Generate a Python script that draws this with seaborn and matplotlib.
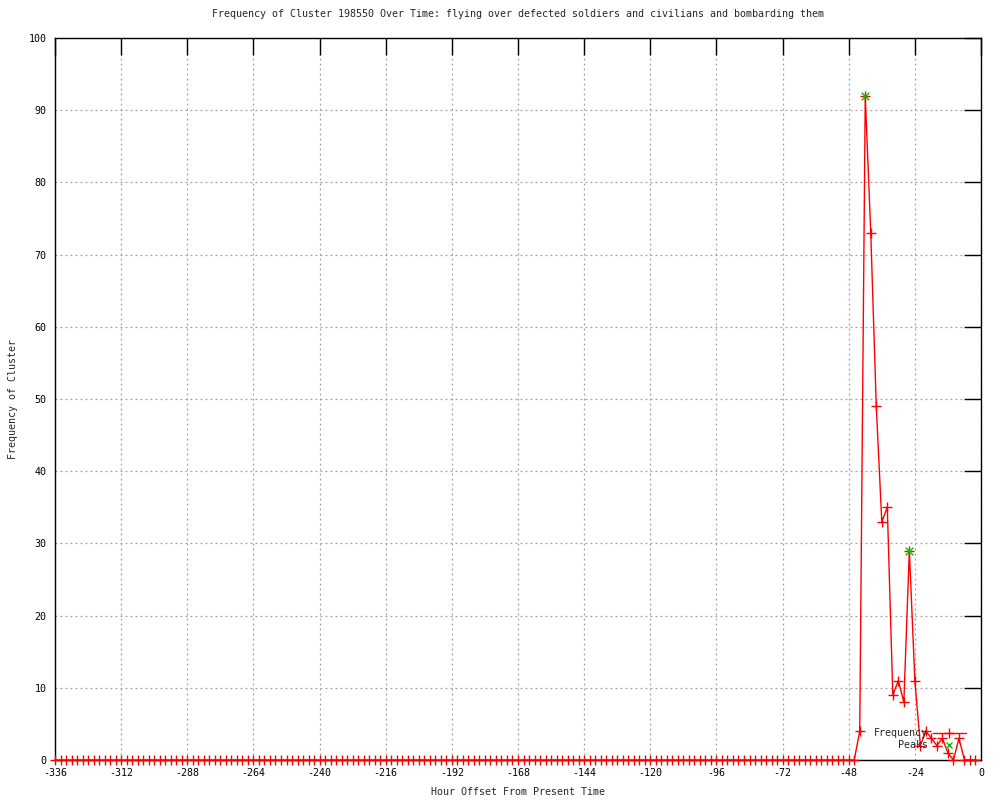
import numpy as np
import pandas as pd
import matplotlib
matplotlib.use("Agg")
import matplotlib.pyplot as plt
import seaborn as sns
from matplotlib.lines import Line2D

# hours before present, sampled every 2 hours
hours = list(range(-336, 0, 2))
# frequency per bin: quiet until -46, then the burst
freq = [0] * 146 + [4, 92, 73, 49, 33, 35, 9, 11, 8, 29, 11,
                    2, 4, 3, 2, 3, 1, 0, 3, 0, 0, 0]
peak_hours = [-42, -26]
peak_freq = [92, 29]

x_ticks = list(range(-336, 1, 24))
y_ticks = list(range(0, 101, 10))

title = ("Frequency of Cluster 198550 Over Time: flying over defected "
         "soldiers and civilians and bombarding them")

sns.set_style("white")
plt.rcParams['font.family'] = ['DejaVu Sans Mono']
plt.rcParams['font.size'] = 7.2
plt.rcParams['axes.unicode_minus'] = False

df = pd.DataFrame({'hour': hours, 'freq': freq})
peaks = pd.DataFrame({'hour': peak_hours, 'freq': peak_freq})

fig = plt.figure(figsize=(10, 8), dpi=100)
ax = fig.add_axes([0.055, 0.05, 0.926, 0.9025])

sns.lineplot(data=df, x='hour', y='freq', ax=ax, color='red', lw=1,
             marker='+', markersize=7, markeredgewidth=1,
             markeredgecolor='red', zorder=3)
ax.lines[0].set_clip_on(False)
sns.scatterplot(data=peaks, x='hour', y='freq', ax=ax, color='#00c000',
                marker='x', s=30, linewidth=1, zorder=4)

ax.set_xlim(-336, 0)
ax.set_ylim(0, 100)
ax.set_xticks(x_ticks)
ax.set_yticks(y_ticks)
ax.grid(True, color='#a0a0a0', linestyle=(0, (1.5, 2.5)), linewidth=0.9)
ax.tick_params(direction='in', length=12, width=1, top=True, right=True,
               labelsize=7.2, pad=6, colors='black')
for s in ax.spines.values():
    s.set_color('black')
    s.set_linewidth(1)

ax.set_title(title, fontsize=7.2, pad=15)
ax.set_xlabel('Hour Offset From Present Time', fontsize=7.2, labelpad=6)
ax.set_ylabel('Frequency of Cluster', fontsize=7.2, labelpad=8)

handles = [
    Line2D([], [], color='red', lw=1, marker='+', markersize=7),
    Line2D([], [], color='#00c000', lw=0, marker='x', markersize=5),
]
leg = ax.legend(handles, ['Frequency', 'Peaks'], loc='lower right',
                bbox_to_anchor=(0.988, 0.008), markerfirst=False,
                frameon=False, handlelength=3.3, labelspacing=0.2,
                handletextpad=0.5, borderaxespad=0, fontsize=7.2)
for t in leg.get_texts():
    t.set_ha('right')

fig.savefig('out.png', dpi=100)
